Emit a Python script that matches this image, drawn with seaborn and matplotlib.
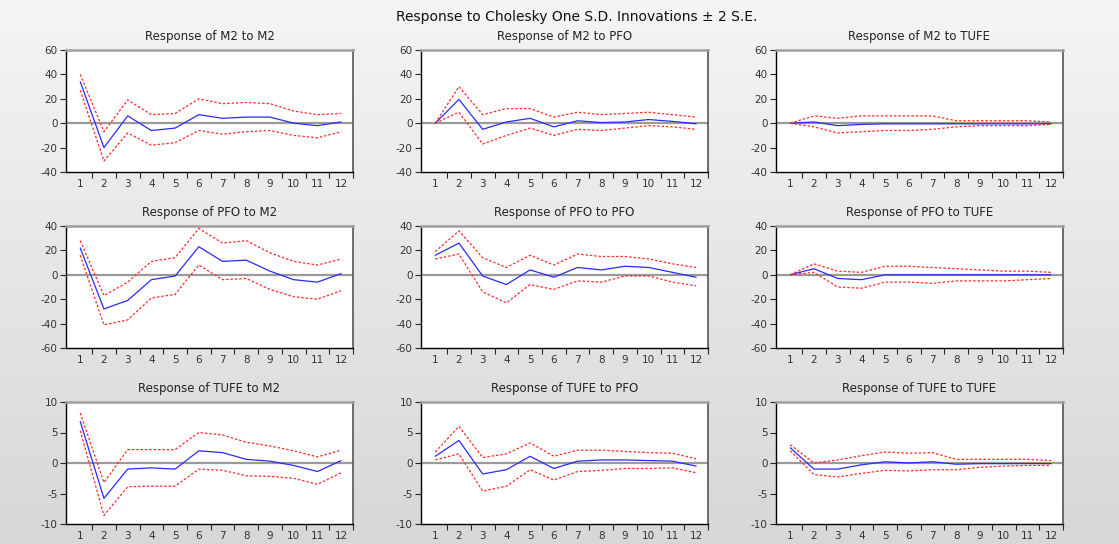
import numpy as np
import pandas as pd
import seaborn as sns
import matplotlib.pyplot as plt

periods = list(range(1, 13))

# response, upper band, lower band (+/- 2 S.E.)
m2_m2 = [34, -20, 6, -6, -4, 7, 4, 5, 5, 0, -2, 1]
m2_m2_up = [40, -7, 19, 7, 8, 20, 16, 17, 16, 10, 7, 8]
m2_m2_lo = [27, -31, -8, -18, -16, -6, -9, -7, -6, -10, -12, -7]

m2_pfo = [0, 19.5, -5, 1, 4, -3, 2, 0.5, 1, 3, 1.5, -0.5]
m2_pfo_up = [0, 30, 7, 12, 12, 5, 9, 7, 8, 9, 7, 5]
m2_pfo_lo = [0, 9, -17, -10, -4, -10, -5, -6, -4, -2, -3, -5]

m2_tufe = [0, 1, -2, -1, -0.5, -0.5, -0.5, -0.5, -0.5, -0.5, -0.5, -0.5]
m2_tufe_up = [0, 6, 4, 6, 6, 6, 6, 2, 2, 2, 2, 1]
m2_tufe_lo = [0, -3, -8, -7, -6, -6, -5, -3, -2, -2, -2, -1]

pfo_m2 = [22, -28, -21, -4, -1, 23, 11, 12, 3, -4, -6, 1]
pfo_m2_up = [28, -17, -6, 11, 14, 38, 26, 28, 18, 11, 8, 13]
pfo_m2_lo = [16, -41, -37, -19, -16, 8, -4, -3, -12, -18, -20, -13]

pfo_pfo = [16, 26, -1, -8, 4, -2, 6, 4, 7, 6, 2, -2]
pfo_pfo_up = [19, 36, 14, 6, 16, 8, 17, 15, 15, 13, 9, 6]
pfo_pfo_lo = [13, 17, -14, -23, -8, -12, -5, -6, -1, -1, -6, -9]

pfo_tufe = [0, 5, -3, -4, 0, 0, 0, 0, 0, 0, 0, 0]
pfo_tufe_up = [0, 9, 3, 2, 7, 7, 6, 5, 4, 3, 3, 2]
pfo_tufe_lo = [0, 2, -10, -11, -6, -6, -7, -5, -5, -5, -4, -3]

tufe_m2 = [6.8, -5.8, -1, -0.8, -1, 2, 1.7, 0.6, 0.3, -0.4, -1.4, 0.4]
tufe_m2_up = [8.2, -3.2, 2.2, 2.2, 2.2, 5, 4.6, 3.4, 2.8, 2, 1, 2.1]
tufe_m2_lo = [5.3, -8.6, -3.9, -3.8, -3.8, -1, -1.2, -2.1, -2.2, -2.5, -3.5, -1.6]

tufe_pfo = [1.1, 3.7, -1.8, -1.1, 1.1, -0.9, 0.3, 0.5, 0.5, 0.4, 0.3, -0.5]
tufe_pfo_up = [1.8, 6, 0.9, 1.5, 3.3, 1.1, 2.1, 2.1, 1.9, 1.7, 1.6, 0.7]
tufe_pfo_lo = [0.5, 1.5, -4.6, -3.8, -1.1, -2.8, -1.4, -1.2, -0.9, -0.9, -0.8, -1.6]

tufe_tufe = [2.5, -1, -1, -0.3, 0.2, 0, 0.2, -0.2, -0.1, -0.1, -0.1, -0.1]
tufe_tufe_up = [3, 0, 0.5, 1.2, 1.8, 1.6, 1.7, 0.6, 0.6, 0.6, 0.6, 0.4]
tufe_tufe_lo = [2, -1.9, -2.3, -1.7, -1.2, -1.3, -1.1, -1.1, -0.7, -0.5, -0.4, -0.4]

panels = [
    ("Response of M2 to M2", m2_m2, m2_m2_up, m2_m2_lo),
    ("Response of M2 to PFO", m2_pfo, m2_pfo_up, m2_pfo_lo),
    ("Response of M2 to TUFE", m2_tufe, m2_tufe_up, m2_tufe_lo),
    ("Response of PFO to M2", pfo_m2, pfo_m2_up, pfo_m2_lo),
    ("Response of PFO to PFO", pfo_pfo, pfo_pfo_up, pfo_pfo_lo),
    ("Response of PFO to TUFE", pfo_tufe, pfo_tufe_up, pfo_tufe_lo),
    ("Response of TUFE to M2", tufe_m2, tufe_m2_up, tufe_m2_lo),
    ("Response of TUFE to PFO", tufe_pfo, tufe_pfo_up, tufe_pfo_lo),
    ("Response of TUFE to TUFE", tufe_tufe, tufe_tufe_up, tufe_tufe_lo),
]
row_ylims = [(-40, 60), (-60, 40), (-10, 10)]
row_steps = [20, 20, 5]

sns.set_style("ticks")
plt.rcParams['font.family'] = ['DejaVu Sans']
plt.rcParams['axes.unicode_minus'] = False

fig = plt.figure(figsize=(11.19, 5.44), dpi=100)
fig.patch.set_facecolor('#e6e6e6')

# soft grey gradient background
bg = fig.add_axes([0, 0, 1, 1], zorder=-10)
grad = np.linspace(0, 1, 256).reshape(-1, 1)
bg.imshow(grad, aspect='auto', cmap=plt.cm.colors.LinearSegmentedColormap.from_list(
    'bg', ['#f5f5f5', '#d7d7d7']), extent=[0, 1, 0, 1])
bg.axis('off')

lefts = [66 / 1119, 421 / 1119, 776 / 1119]
bottoms = [1 - 172 / 544, 1 - 348 / 544, 1 - 524 / 544]
w = 287 / 1119
h = 122 / 544

pal = {'resp': '#2a2aff', 'upper': '#ff2a2a', 'lower': '#ff2a2a'}
dsh = {'resp': '', 'upper': (2, 1.5), 'lower': (2, 1.5)}

for i, (title, resp, up, lo) in enumerate(panels):
    r, c = divmod(i, 3)
    ax = fig.add_axes([lefts[c], bottoms[r], w, h])
    ax.set_facecolor('white')
    df = pd.DataFrame({
        'period': periods * 3,
        'value': resp + up + lo,
        'band': ['resp'] * 12 + ['upper'] * 12 + ['lower'] * 12,
    })
    ax.axhline(0, color='#9a9a9a', lw=1.6, zorder=1)
    sns.lineplot(data=df, x='period', y='value', hue='band', style='band',
                 palette=pal, dashes=dsh, legend=False, lw=0.9, ax=ax, zorder=3)
    ax.set_xlim(0.4, 12.5)
    lo_y, hi_y = row_ylims[r]
    ax.set_ylim(lo_y, hi_y)
    ax.set_yticks(np.arange(lo_y, hi_y + 1, row_steps[r]))
    ax.set_xticks(periods)
    ax.set_xticks(np.arange(1.5, 12.6, 1), minor=True)
    ax.tick_params(axis='x', which='major', length=0, labelsize=7.5, pad=5,
                   labelcolor='#333333')
    ax.tick_params(axis='x', which='minor', length=4, width=0.8, direction='out')
    ax.tick_params(axis='y', length=4, width=0.8, direction='out', labelsize=7.5,
                   pad=2, labelcolor='#333333')
    ax.set_xlabel('')
    ax.set_ylabel('')
    for s in ['left', 'bottom']:
        ax.spines[s].set_color('black')
        ax.spines[s].set_linewidth(1.0)
    ax.spines['top'].set_visible(True)
    ax.spines['right'].set_visible(True)
    ax.spines['top'].set_color('#a0a0a0')
    ax.spines['top'].set_linewidth(1.8)
    ax.spines['right'].set_color('#555555')
    ax.spines['right'].set_linewidth(1.2)
    ax.set_title(title, fontsize=8.5, pad=7, color='#222222')

fig.text(577 / 1119, 1 - 17 / 544, "Response to Cholesky One S.D. Innovations \u00b1 2 S.E.",
         ha='center', va='center', fontsize=10, color='#111111')

fig.savefig('out.png', dpi=100, facecolor=fig.get_facecolor())
